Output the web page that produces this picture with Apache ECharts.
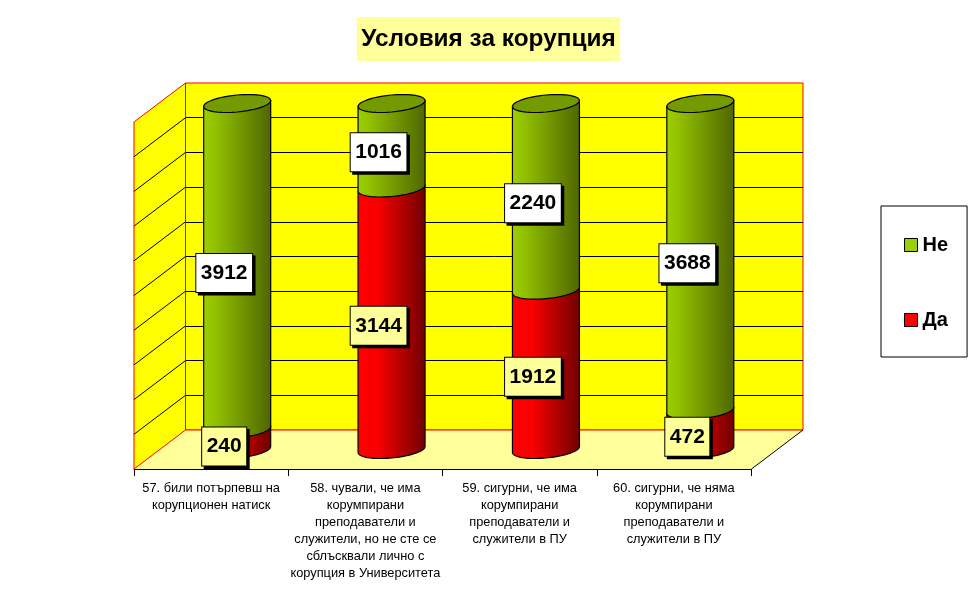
<!DOCTYPE html>
<html><head><meta charset="utf-8">
<style>html,body{margin:0;padding:0;background:#fff}#c{width:977px;height:600px}</style>
<script src="https://cdn.jsdelivr.net/npm/echarts@6/dist/echarts.min.js"></script>
</head><body><div id="c"></div>
<script>
const categories = [
  "57. били потърпевш на\nкорупционен натиск",
  "58. чували, че има\nкорумпирани\nпреподаватели и\nслужители, но не сте се\nсблъсквали лично с\nкорупция в Университета",
  "59. сигурни, че има\nкорумпирани\nпреподаватели и\nслужители в ПУ",
  "60. сигурни, че няма\nкорумпирани\nпреподаватели и\nслужители в ПУ"
];
const seriesNames = ["Да", "Не"];
const yesValues = [240, 3144, 1912, 472];
const noValues = [3912, 1016, 2240, 3688];
const percentTicks = [10, 20, 30, 40, 50, 60, 70, 80, 90];
const titleText = "Условия за корупция";

const FONT = '"Liberation Sans", Arial, sans-serif';
const DX = -51.5, DY = 39;            // depth of the 3D box
const RY = 8.5, SKEW = 3;             // cylinder cap shape

function arc(cx, cy, rx, from, to) {
  const pts = [];
  const n = 40;
  for (let i = 0; i <= n; i++) {
    const t = from + (to - from) * i / n;
    pts.push([cx + rx * Math.cos(t), cy + RY * Math.sin(t) - SKEW * Math.cos(t)]);
  }
  return pts;
}
const grad = stops => new echarts.graphic.LinearGradient(0, 0, 1, 0,
  stops.map(s => ({offset: s[0], color: s[1]})));
const greenSide = grad([[0, '#9ccf00'], [0.2, '#90bf00'], [1, '#4f6600']]);
const redSide = grad([[0, '#ff0000'], [0.3, '#f80000'], [1, '#700000']]);

function cylinderSeries(name, idx, side, labelBg, startOf, valueOf, withCap) {
  return {
    name, type: 'custom', xAxisIndex: 1, yAxisIndex: 1, clip: false, z: 3,
    data: categories.map((c, i) => {
      const total = yesValues[i] + noValues[i];
      const from = startOf(i) / total * 100;
      const to = (startOf(i) + valueOf(i)) / total * 100;
      return [i, from, to, valueOf(i)];
    }),
    encode: {x: 0, y: [1, 2]},
    renderItem(params, api) {
      const i = api.value(0), a = api.coord([i, api.value(1)]), b = api.coord([i, api.value(2)]);
      const rx = api.size([1, 0])[0] * 0.217;
      const cx = a[0];
      const body = arc(cx, a[1], rx, 0, Math.PI).concat([[cx - rx, b[1] + SKEW], [cx + rx, b[1] - SKEW]]);
      const children = [{
        type: 'polygon', z2: 1 + idx * 2, shape: {points: body},
        style: {fill: side, stroke: '#000', lineWidth: 1.2}
      }];
      if (withCap) {
        children.push({
          type: 'polygon', z2: 5, shape: {points: arc(cx, b[1], rx, 0, Math.PI * 2)},
          style: {fill: '#739a00', stroke: '#000', lineWidth: 1.2}
        });
      }
      const labelDy = withCap ? 6.5 : 7;
      children.push({
        type: 'text', z2: 100,
        x: cx - 13, y: (a[1] + b[1]) / 2 + labelDy,
        style: {
          text: String(api.value(3)), font: 'bold 21px ' + FONT, fill: '#000',
          align: 'center', verticalAlign: 'middle',
          backgroundColor: labelBg, borderColor: '#000', borderWidth: 1,
          padding: [9, 4.5, 8, 4.5],
          shadowColor: '#000', shadowOffsetX: 2.5, shadowOffsetY: 2.5, shadowBlur: 0
        }
      });
      return {type: 'group', children};
    }
  };
}

const option = {
  animation: false,
  backgroundColor: '#fff',
  title: {
    text: titleText, left: 'center', top: 17,
    backgroundColor: '#FFFF99', padding: [10, 4.5, 10, 4.5],
    textStyle: {fontFamily: FONT, fontWeight: 'bold', fontSize: 24.4, color: '#000', lineHeight: 24}
  },
  legend: {
    orient: 'vertical', left: 881, top: 206,
    padding: [29, 19, 27, 23], itemGap: 55, itemWidth: 13, itemHeight: 13,
    backgroundColor: '#fff', borderColor: '#000', borderWidth: 1,
    textStyle: {fontFamily: FONT, fontWeight: 'bold', fontSize: 20, color: '#000'},
    data: [
      {name: 'Не', icon: 'rect', itemStyle: {color: '#9ccf00', borderColor: '#000', borderWidth: 1}},
      {name: 'Да', icon: 'rect', itemStyle: {color: '#ff0000', borderColor: '#000', borderWidth: 1}}
    ]
  },
  grid: [
    {left: 185.5, width: 617.5, top: 83, height: 347, show: true, backgroundColor: '#FFFF00', borderColor: '#ff0000', borderWidth: 1},
    {left: 160, width: 617.5, top: 103.5, height: 346},
    {left: 134, width: 617, top: 123, height: 346}
  ],
  xAxis: [
    {gridIndex: 0, type: 'value', min: 0, max: 1, show: false},
    {gridIndex: 1, type: 'category', data: categories, show: false},
    {gridIndex: 2, type: 'category', data: categories,
      axisLine: {show: true, lineStyle: {color: '#000', width: 1}},
      axisTick: {show: true, length: 7, lineStyle: {color: '#000', width: 1}},
      axisLabel: {interval: 0, margin: 11, color: '#000', fontFamily: FONT, fontSize: 12.8, lineHeight: 17, align: 'center'}
    }
  ],
  yAxis: [
    {gridIndex: 0, type: 'value', min: 0, max: 100, interval: 10,
      axisLine: {show: false}, axisTick: {show: false}, axisLabel: {show: false},
      splitLine: {show: true, showMinLine: false, showMaxLine: false, lineStyle: {color: '#000', width: 1}}},
    {gridIndex: 1, type: 'value', min: 0, max: 100, interval: 10, show: false},
    {gridIndex: 2, type: 'value', min: 0, max: 100, interval: 10, show: false}
  ],
  series: [
    { // floor and left wall of the 3D box
      type: 'custom', xAxisIndex: 0, yAxisIndex: 0, clip: false, z: 1, silent: true,
      data: [[0]],
      renderItem(params, api) {
        const bl = api.coord([0, 0]), br = api.coord([1, 0]), tl = api.coord([0, 100]);
        const off = p => [p[0] + DX, p[1] + DY];
        return {type: 'group', children: [
          {type: 'polygon', shape: {points: [bl, br, off(br), off(bl)]}, style: {fill: '#FFFF99'}},
          {type: 'polygon', shape: {points: [tl, bl, off(bl), off(tl)]}, style: {fill: '#FFFF00', stroke: '#ff0000', lineWidth: 1}},
          {type: 'line', shape: {x1: bl[0], y1: bl[1], x2: br[0], y2: br[1]}, style: {stroke: '#ff0000', lineWidth: 1}},
          {type: 'line', shape: {x1: br[0], y1: br[1], x2: br[0] + DX, y2: br[1] + DY}, style: {stroke: '#000', lineWidth: 1}}
        ]};
      }
    },
    { // gridlines on the left wall
      type: 'custom', xAxisIndex: 0, yAxisIndex: 0, clip: false, z: 2, silent: true,
      data: percentTicks.map(t => [t]),
      encode: {y: 0},
      renderItem(params, api) {
        const p = api.coord([0, api.value(0)]);
        return {type: 'line', shape: {x1: p[0], y1: p[1], x2: p[0] + DX, y2: p[1] + DY}, style: {stroke: '#000', lineWidth: 1}};
      }
    },
    cylinderSeries(seriesNames[0], 0, redSide, '#FFFF99', () => 0, i => yesValues[i], false),
    cylinderSeries(seriesNames[1], 1, greenSide, '#FFFFFF', i => yesValues[i], i => noValues[i], true)
  ]
};
echarts.init(document.getElementById('c'), null, {renderer: 'canvas'}).setOption(option);
</script></body></html>
